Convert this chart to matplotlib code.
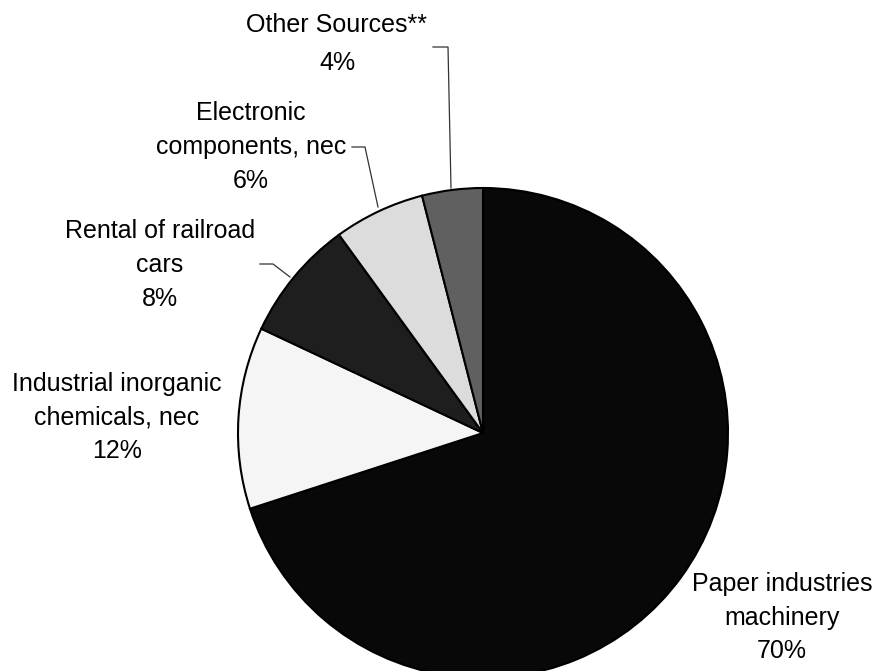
import matplotlib.pyplot as plt

# slices, clockwise from 12 o'clock
names = ["Paper industries\nmachinery", "Industrial inorganic\nchemicals, nec",
         "Rental of railroad\ncars", "Electronic\ncomponents, nec", "Other Sources**"]
shares = [70, 12, 8, 6, 4]
colors = ["#080808", "#f5f5f5", "#1e1e1e", "#dcdcdc", "#606060"]

# label centres (pixels from top-left)
label_pos = [(782, 618), (117, 417), (160, 265), (251, 147), (337, 44)]
# leader lines (pixels from top-left); None = no leader
leaders = [None, None,
           [(260, 264), (273, 264), (290, 277)],
           [(352, 147), (365, 147), (378, 207)],
           [(433, 47), (448, 47), (451, 188)]]

W, H = 880, 671
fig = plt.figure(figsize=(W / 100, H / 100), dpi=100)
ax = fig.add_axes([0, 0, 1, 1])

ax.pie(shares, colors=colors, startangle=90, counterclock=False,
       center=(483, H - 433), radius=245, frame=True,
       wedgeprops=dict(edgecolor="black", linewidth=1.5))
ax.set_xlim(0, W)
ax.set_ylim(0, H)
ax.set_aspect("equal")
ax.axis("off")

for name, val, (x, y), ld in zip(names, shares, label_pos, leaders):
    ls = 1.72 if "\n" not in name else 1.5
    ax.text(x, H - y, f"{name}\n{val}%", ha="center", va="center",
            fontsize=18, family="Liberation Sans", linespacing=ls)
    if ld:
        ax.plot([p[0] for p in ld], [H - p[1] for p in ld], color="#333333", lw=0.9)

fig.savefig("out.png", dpi=100)
